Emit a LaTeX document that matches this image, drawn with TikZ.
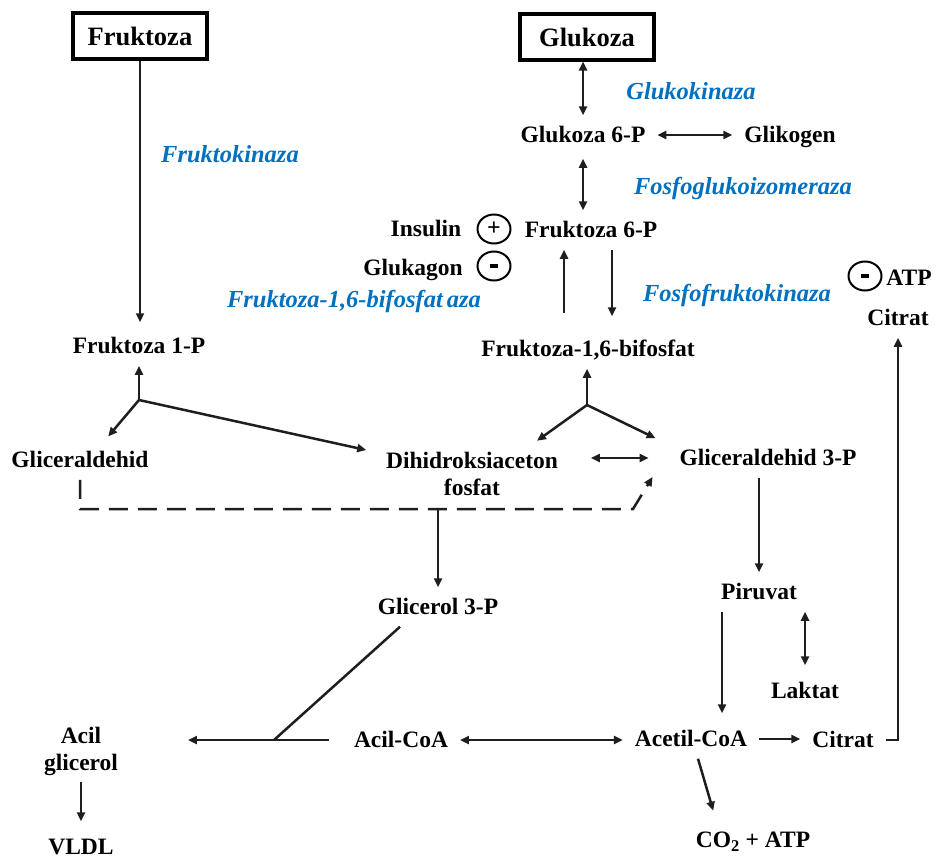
\documentclass[tikz,border=0pt]{standalone}
\usepackage{fontspec}
\setmainfont{Liberation Serif}
\usetikzlibrary{positioning,arrows.meta,shapes.geometric}
\definecolor{enzblue}{RGB}{0,112,192}
\definecolor{lnk}{RGB}{30,30,30}

\begin{document}
\begin{tikzpicture}[x=1pt,y=-1pt,>={Triangle[length=9pt,width=8pt]},
  met/.style={font=\bfseries\fontsize{23.5}{27}\selectfont,inner sep=0pt,outer sep=12pt,
    text height=15.5pt,text depth=0pt,align=center},
  mettwo/.style={met,text height=42.5pt},
  enz/.style={font=\bfseries\itshape\fontsize{24.5}{28}\selectfont,text=enzblue,
    inner sep=0pt,text height=15.5pt,text depth=0pt},
  srcbox/.style={draw,line width=3.5pt,minimum width=134pt,minimum height=46pt,
    inner sep=0pt,outer sep=1.5pt,font=\bfseries\fontsize{26.5}{30}\selectfont},
  sign/.style={ellipse,draw,line width=2pt,minimum width=33pt,minimum height=29pt,
    inner sep=0pt,font=\bfseries\fontsize{24}{24}\selectfont},
  ln/.style={line width=2.5pt,draw=lnk},
  dsh/.style={ln,dash pattern=on 19pt off 10pt}]
  \useasboundingbox (0,0) rectangle (941,859);
  % sources
  \node[srcbox] (fru) at (140,36) {Fruktoza};
  \node[srcbox] (glu) at (587,37) {Glukoza};
  % metabolites
  \node[met] (f1p) at (139,346) {Fruktoza 1-P};
  \node[met] (g6p) at (583,135) {Glukoza 6-P};
  \node[met] (glik) at (790,135) {Glikogen};
  \node[met] (f6p) at (591,230) {Fruktoza 6-P};
  \node[met] (f16) at (588,349) {Fruktoza-1,6-bifosfat};
  \node[met] (cittop) at (898,318) {Citrat};
  \node[met] (glal) at (80,460) {Gliceraldehid};
  \node[mettwo] (dhap) at (472,474) {Dihidroksiaceton\\fosfat};
  \node[met] (ga3p) at (768,458) {Gliceraldehid 3-P};
  \node[met] (gly3p) at (438,607) {Glicerol 3-P};
  \node[met] (piru) at (759,592) {Piruvat};
  \node[met] (lak) at (805,691) {Laktat};
  \node[mettwo] (acgl) at (81,749) {Acil\\glicerol};
  \node[met] (vldl) at (81,847) {VLDL};
  \node[met] (acoa) at (401,740) {Acil-CoA};
  \node[met] (acet) at (691,739) {Acetil-CoA};
  \node[met] (citbot) at (843,740) {Citrat};
  \node[met] (co2) at (753,840) {CO\textsubscript{2} + ATP};
  % regulators
  \node[met] (ins) at (426,229) {Insulin};
  \node[sign] (plus) at (494,229) {+};
  \node[met] (glc) at (413,268) {Glukagon};
  \node[sign] (minA) at (494,266) {\rule{8pt}{3.5pt}};
  \node[sign] (minB) at (865,276) {\rule{8pt}{3.5pt}};
  \node[met] (atp) at (909,278) {ATP};
  % enzymes
  \node[enz] (fk) at (230,155) {Fruktokinaza};
  \node[enz] (gk) at (691,92) {Glukokinaza};
  \node[enz] (pgi) at (743,187) {Fosfoglukoizomeraza};
  \node[enz] (fbp) at (354,300) {Fruktoza-1,6-bifosfat\,aza};
  \node[enz] (pfk) at (737,294) {Fosfofruktokinaza};
  % glukoza side
  \draw[ln,->,shorten >=4pt] (fru) -- (fru |- f1p.north);
  \draw[ln,<->] (g6p |- glu.south) -- (g6p);
  \draw[ln,<->] (g6p) -- (glik);
  \draw[ln,<->,shorten <=4pt] (g6p) -- (g6p |- f6p.north);
  \draw[ln,->,shorten <=16pt] ([xshift=-24pt]f16.north) -- ([xshift=-27pt]f6p.south);
  \draw[ln,->,shorten >=13pt] ([xshift=21pt]f6p.south) -- ([xshift=24pt]f16.north);
  \coordinate (fbr) at (587,405);
  \draw[ln,->] (fbr) -- (fbr |- f16.south);
  \draw[ln,->] (fbr) -- ([xshift=65pt]dhap.north);
  \draw[ln,->] (fbr) -- ([xshift=-12pt]ga3p.north west);
  \draw[ln,<->,shorten <=21pt,shorten >=19pt] (dhap.east |- ga3p) -- (ga3p.west);
  % fruktoza branch
  \coordinate (f1br) at (139,400);
  \draw[ln,->] (f1br) -- (f1br |- f1p.south);
  \draw[ln,->,shorten >=5pt] (f1br) -- ([xshift=25pt]glal.north);
  \draw[ln,->,shorten >=8pt] (f1br) -- ([yshift=-11pt]dhap.north west);
  \coordinate (dcorner) at (633,509);
  \draw[dsh,->] (glal.south) |- (dcorner) -- ([xshift=-15pt,yshift=-19pt]ga3p.west);
  % piruvat, acetil-CoA
  \draw[ln,->] (piru |- ga3p.south) -- (piru);
  \draw[ln,->,shorten >=6pt] ([xshift=-37pt]piru.south) -- ([xshift=-37pt]piru.south |- acet.north);
  \draw[ln,<->,shorten >=6pt] (lak |- piru.south) -- (lak);
  \draw[ln,->] (acet.east) -- (acet.east -| citbot.west);
  \draw[ln,->] (citbot.east) -| (cittop.south);
  \draw[ln,->,shorten >=10pt] ([xshift=7pt]acet.south) -- ([xshift=-37pt]co2.north);
  % glicerol, acil
  \draw[ln,->] (gly3p |- dcorner) -- (gly3p);
  \coordinate (acj) at (274,740);
  \draw[ln] ([xshift=-38pt]gly3p.south) -- (acj);
  \draw[ln,->,shorten <=13pt,shorten >=58pt] (acoa.west) -- (acoa.west -| acgl.east);
  \draw[ln,<->] (acoa.east) -- (acoa.east -| acet.west);
  \draw[ln,->,shorten >=6pt] (acgl) -- (vldl);
\end{tikzpicture}
\end{document}
